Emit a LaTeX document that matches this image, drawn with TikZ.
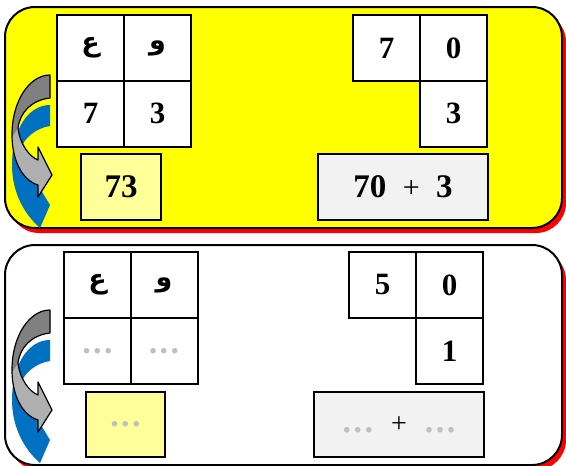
\documentclass[tikz,border=0pt]{standalone}
\usepackage{fontspec}
\setmainfont{Liberation Serif}
\newfontfamily\arabicfont[Script=Arabic]{DejaVu Sans}
\TeXXeTstate=1
\definecolor{panelyellow}{HTML}{FFFF00}
\definecolor{shadowred}{HTML}{FF0000}
\definecolor{paleyellow}{HTML}{FFFF99}
\definecolor{palegray}{HTML}{F2F2F2}
\definecolor{dotgray}{HTML}{BFBFBF}
\definecolor{arrowblue}{HTML}{0070C0}
\definecolor{darkg}{HTML}{808080}
\definecolor{lightg}{HTML}{B0B0B0}
\newcommand{\dg}{\bfseries\fontsize{31}{31}\selectfont}
\newcommand{\bigdg}{\bfseries\fontsize{33}{33}\selectfont}
\newcommand{\ar}[1]{{\arabicfont\fontsize{27}{27}\selectfont\beginR #1\endR}}
\newcommand{\dts}{\textcolor{dotgray}{\bfseries\fontsize{34}{34}\selectfont .\kern2.5pt.\kern2.5pt.}}
\newcommand{\pls}[1]{{\mdseries\fontsize{#1}{#1}\selectfont +}}
\begin{document}
\begin{tikzpicture}[x=1pt,y=-1pt,
  panel/.style={line width=2pt, rounded corners=30pt},
  cell/.style={draw, line width=2pt, fill=white, minimum width=67pt, minimum height=66pt, inner sep=0pt, font=\dg},
  ansbox/.style={draw, line width=2pt, fill=paleyellow, minimum width=80pt, minimum height=66pt, inner sep=0pt, font=\bigdg},
  sumbox/.style={draw, line width=2pt, fill=palegray, minimum width=170pt, minimum height=66pt, inner sep=0pt, font=\bigdg}]
\useasboundingbox (0,0) rectangle (566,466);
\clip (0,0) rectangle (566,466);
% panels
\fill[shadowred, rounded corners=30pt] (9,12) rectangle (566,233);
\filldraw[panel, fill=panelyellow] (5,7) rectangle (562,228);
\fill[shadowred, rounded corners=30pt] (9,250) rectangle (566,470);
\filldraw[panel, fill=white] (5,245) rectangle (562,465);
% curved arrows
\foreach \dy in {0,235}{
\begin{scope}[yshift=-\dy pt]
\fill[arrowblue] (50,105) -- (50,126) .. controls (36,128) and (24,138) .. (20,150) -- (38,185) -- (50,205) -- (40,228) .. controls (24,214) and (12,192) .. (12,165) .. controls (12,130) and (28,105) .. (50,105) -- cycle;
\fill[lightg] (50,75) -- (50,98) .. controls (32,100) and (20,112) .. (18,128) .. controls (20,145) and (30,157) .. (38,160) -- (38,147) -- (52,175) -- (38,197) -- (38,185) .. controls (22,180) and (12,160) .. (12,135) .. controls (12,100) and (30,75) .. (50,75) -- cycle;
\fill[darkg] (50,75) -- (50,98) .. controls (32,100) and (20,112) .. (18,128) -- (12,137) .. controls (12,100) and (30,75) .. (50,75) -- cycle;
\draw[line width=1.2pt, line join=round] (50,75) -- (50,98) .. controls (32,100) and (20,112) .. (18,128) .. controls (20,145) and (30,157) .. (38,160) -- (38,147) -- (52,175) -- (38,197) -- (38,185) .. controls (22,180) and (12,160) .. (12,135) .. controls (12,100) and (30,75) .. (50,75) -- cycle;
\end{scope}}
% top panel
\node[cell] (ta) at (90.5,48) {\ar{ع}};
\node[cell] (tb) at (157.5,48) {\ar{و}};
\node[cell] (tc) at (90.5,113.5) {7};
\node[cell] (td) at (157.5,113.5) {3};
\node[ansbox] (tans) at (121,187) {73};
\node[cell] (te) at (386.5,48) {7};
\node[cell] (tf) at (453.5,48) {0};
\node[cell] (tg) at (453.5,113.5) {3};
\node[sumbox] (tsum) at (403,187) {70\enspace\pls{30}\enspace3};
% bottom panel
\node[cell] (ba) at (97.5,285) {\ar{ع}};
\node[cell] (bb) at (164,285) {\ar{و}};
\node[cell] (bc) at (97.5,351) {\dts};
\node[cell] (bd) at (164,351) {\dts};
\node[ansbox, minimum width=79pt, minimum height=65pt] (bans) at (125.5,424.5) {\dts};
\node[cell] (be) at (382.5,285) {5};
\node[cell] (bf) at (449.5,285) {0};
\node[cell] (bg) at (449.5,351) {1};
\node[sumbox, minimum height=65pt] (bsum) at (399,424.5) {\dts\hspace{18pt}\pls{28}\hspace{18pt}\dts};
\end{tikzpicture}
\end{document}
